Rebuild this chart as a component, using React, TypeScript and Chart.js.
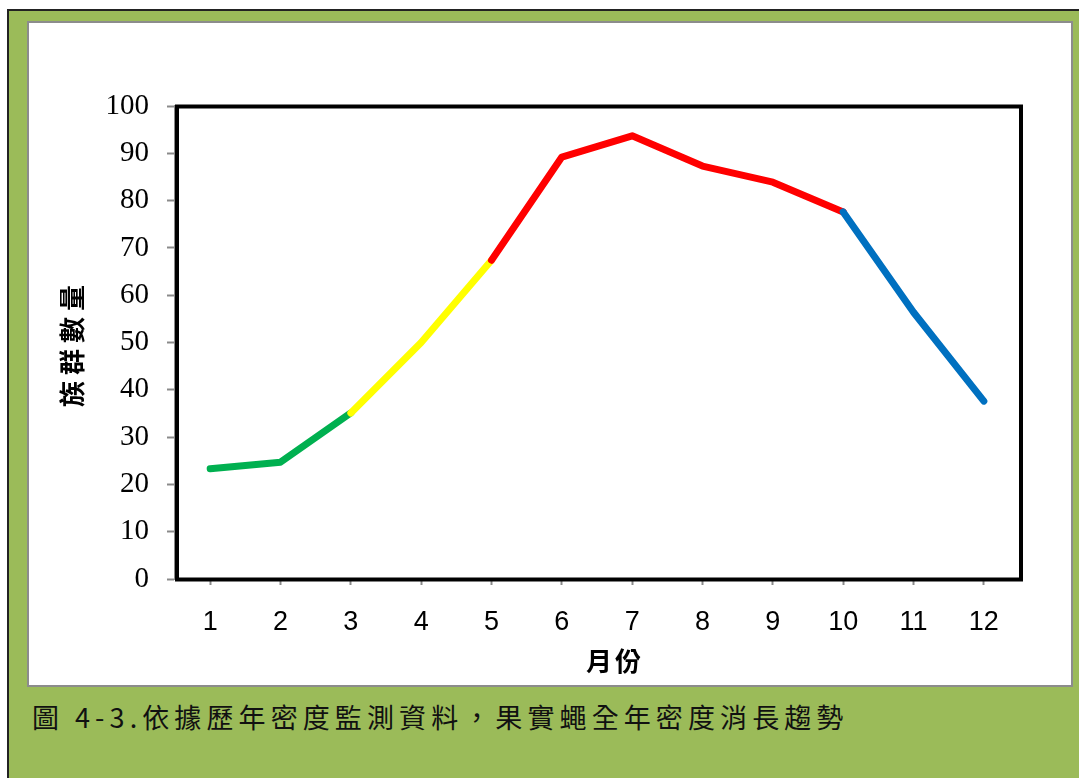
import React, { useEffect, useRef } from "react";
import { Chart, registerables } from "chart.js";

Chart.register(...registerables);

// ---- data ----
const months = ["1", "2", "3", "4", "5", "6", "7", "8", "9", "10", "11", "12"];
const density = [23.3, 24.7, 35.1, 50.0, 67.4, 89.2, 93.7, 87.3, 83.9, 77.6, 56.4, 37.6];
const yMin = 0;
const yMax = 100;
const yStep = 10;
// colour of the segment that starts at each month (index of its first point)
const segmentColors = [
  "#00B050", "#00B050",
  "#FFFF00", "#FFFF00",
  "#FF0000", "#FF0000", "#FF0000", "#FF0000", "#FF0000",
  "#0070C0", "#0070C0",
];
const xTitle = "月份";
const yTitle = "族群數量";
const caption1 = "圖";
const caption2 = "4-3.依據歷年密度監測資料，果實蠅全年密度消長趨勢";

const W = 1079;
const H = 778;

const frameAndTitles = {
  id: "frameAndTitles",
  beforeDatasetsDraw(chart: any) {
    const { ctx, chartArea } = chart;
    ctx.save();
    ctx.strokeStyle = "#000";
    ctx.lineWidth = 4;
    ctx.strokeRect(
      chartArea.left + 2,
      chartArea.top + 0.5,
      chartArea.right - chartArea.left,
      chartArea.bottom - chartArea.top
    );
    ctx.restore();
  },
  afterDraw(chart: any) {
    const { ctx } = chart;
    ctx.save();
    ctx.fillStyle = "#000";
    ctx.textAlign = "center";
    ctx.textBaseline = "middle";
    // x title
    ctx.font = "bold 26px 'Noto Sans CJK TC'";
    (ctx as any).letterSpacing = "3px";
    ctx.fillText(xTitle, 615, 661);
    // y title
    ctx.translate(72, 343);
    ctx.rotate(-Math.PI / 2);
    ctx.font = "bold 26px 'Noto Sans CJK TC'";
    (ctx as any).letterSpacing = "6px";
    ctx.fillText(yTitle, 0, 0);
    ctx.restore();
  },
};

export default function App() {
  const ref = useRef<HTMLCanvasElement | null>(null);

  useEffect(() => {
    if (!ref.current) return;
    const chart = new Chart(ref.current, {
      type: "line",
      data: {
        labels: months,
        datasets: [
          {
            data: density,
            borderWidth: 7,
            borderColor: segmentColors[0],
            pointRadius: 0,
            tension: 0,
            borderCapStyle: "round",
            borderJoinStyle: "round",
            segment: {
              borderColor: (c: any) => segmentColors[c.p0DataIndex],
            },
          },
        ],
      },
      options: {
        animation: false,
        responsive: false,
        devicePixelRatio: 1,
        layout: { padding: { left: 0, top: 106, right: 60, bottom: 0 } },
        plugins: {
          legend: { display: false },
          tooltip: { enabled: false },
          title: { display: false },
        },
        scales: {
          x: {
            type: "category",
            offset: true,
            afterFit: (s: any) => {
              s.height = 199;
            },
            grid: {
              display: true,
              offset: false,
              drawOnChartArea: false,
              drawTicks: true,
              tickLength: 6,
              tickWidth: 2,
              color: "#8a8a8a",
            },
            border: { display: true, color: "#8a8a8a", width: 2 },
            ticks: {
              color: "#000",
              padding: 21,
              font: { family: "'Liberation Sans Narrow', 'Liberation Sans'", size: 27 },
              maxRotation: 0,
              autoSkip: false,
            },
          },
          y: {
            min: yMin,
            max: yMax,
            afterFit: (s: any) => {
              s.width = 175;
            },
            grid: {
              display: true,
              drawOnChartArea: false,
              drawTicks: true,
              tickLength: 8,
              tickWidth: 2,
              color: "#8a8a8a",
            },
            border: { display: true, color: "#8a8a8a", width: 2 },
            ticks: {
              stepSize: yStep,
              color: "#000",
              padding: 18,
              font: { family: "'Liberation Serif', 'Times New Roman', serif", size: 29 },
            },
          },
        },
      },
      plugins: [frameAndTitles],
    } as any);
    return () => chart.destroy();
  }, []);

  return (
    <div>
      <div
        style={{
          position: "fixed",
          left: 7,
          top: 9,
          right: -20,
          bottom: -20,
          background: "#9BBB59",
          borderTop: "2px solid #222",
          borderLeft: "2px solid #222",
        }}
      />
      <div
        style={{
          position: "fixed",
          left: 27,
          top: 21,
          width: 1046,
          height: 666,
          boxSizing: "border-box",
          background: "#fff",
          border: "2px solid #8c8c8c",
        }}
      />
      <div
        style={{
          position: "fixed",
          left: 32,
          top: 700,
          fontFamily: "'Noto Sans CJK TC', sans-serif",
          fontSize: 27,
          lineHeight: "34px",
          color: "#111",
          whiteSpace: "pre",
        }}
      >
        {caption1}
      </div>
      <div
        style={{
          position: "fixed",
          left: 75,
          top: 700,
          fontFamily: "'Noto Sans CJK TC', sans-serif",
          fontSize: 27,
          lineHeight: "34px",
          letterSpacing: "5.1px",
          color: "#111",
          whiteSpace: "pre",
        }}
      >
        {caption2}
      </div>
      <canvas
        ref={ref}
        width={W}
        height={H}
        style={{ position: "fixed", left: 0, top: 0, width: W, height: H, pointerEvents: "none" }}
      />
    </div>
  );
}
